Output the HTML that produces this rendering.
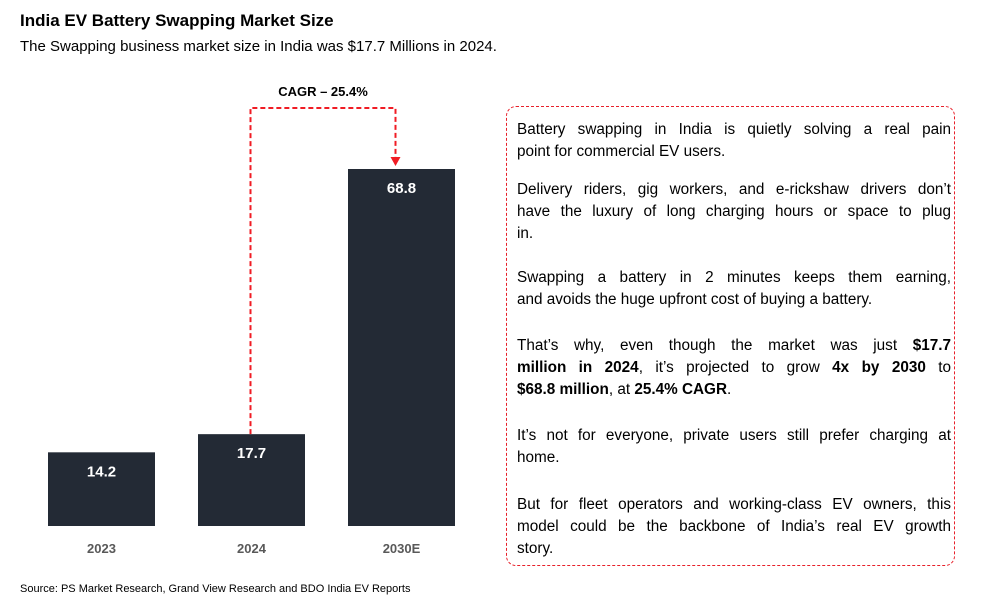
<!DOCTYPE html>
<html><head><meta charset="utf-8"><style>
body{margin:0;width:985px;height:607px;background:#fff;font-family:"Liberation Sans",sans-serif;position:relative;overflow:hidden;color:#000}
.abs{position:absolute}
#title{left:20px;top:11px;font-size:17px;font-weight:bold}
#sub{left:20px;top:38px;font-size:15px}
#src{left:20px;top:583px;font-size:11px}
#box{left:506px;top:106px;width:449px;height:460px;border:1.5px dashed #e8202a;border-radius:10px;box-sizing:border-box}
.ln{position:absolute;left:517px;width:434px;font-size:15.3px;white-space:nowrap;text-align:justify;text-align-last:justify;line-height:20px}
.ln.e{text-align-last:left}
</style></head><body>
<div id="title" class="abs">India EV Battery Swapping Market Size</div>
<div id="sub" class="abs">The Swapping business market size in India was $17.7 Millions in 2024.</div>
<svg class="abs" style="left:0;top:0" width="500" height="580" id="chart"></svg>
<div id="box" class="abs"></div>
<div>
<div class="ln" style="top:120px">Battery swapping in India is quietly solving a real pain</div>
<div class="ln e" style="top:142px">point for commercial EV users.</div>
<div class="ln" style="top:180px">Delivery riders, gig workers, and e-rickshaw drivers don’t</div>
<div class="ln" style="top:202px">have the luxury of long charging hours or space to plug</div>
<div class="ln e" style="top:224px">in.</div>
<div class="ln" style="top:268px">Swapping a battery in 2 minutes keeps them earning,</div>
<div class="ln e" style="top:290px">and avoids the huge upfront cost of buying a battery.</div>
<div class="ln" style="top:336px">That’s why, even though the market was just <b>$17.7</b></div>
<div class="ln" style="top:358px"><b>million in 2024</b>, it’s projected to grow <b>4x by 2030</b> to</div>
<div class="ln e" style="top:380px"><b>$68.8 million</b>, at <b>25.4% CAGR</b>.</div>
<div class="ln" style="top:426px">It’s not for everyone, private users still prefer charging at</div>
<div class="ln e" style="top:448px">home.</div>
<div class="ln" style="top:495px">But for fleet operators and working-class EV owners, this</div>
<div class="ln" style="top:517px">model could be the backbone of India’s real EV growth</div>
<div class="ln e" style="top:539px">story.</div>
</div>
<div id="src" class="abs">Source: PS Market Research, Grand View Research and BDO India EV Reports</div>
<script>
const categories=["2023","2024","2030E"];
const values=[14.2,17.7,68.8];
const valueLabels=["14.2","17.7","68.8"];
const cagrLabel="CAGR – 25.4%";
const svg=document.getElementById('chart');
const NS="http://www.w3.org/2000/svg";
const base=526, pxPer=357/68.8, x0=48, step=150, bw=107;
function xs(i){return x0+i*step;}
function ys(v){return base-v*pxPer;}
function mk(t,a){const e=document.createElementNS(NS,t);for(const k in a)e.setAttribute(k,a[k]);svg.appendChild(e);return e;}
categories.forEach((c,i)=>{
  const r=mk('rect',{x:xs(i),y:ys(values[i]),width:bw,height:base-ys(values[i]),fill:'#232a35'});
  
  
  const t=mk('text',{x:xs(i)+bw/2,y:ys(values[i])+24,'text-anchor':'middle','font-size':15,'font-weight':'bold',fill:'#fff','font-family':'Liberation Sans'});
  t.textContent=valueLabels[i];
  
  
  const l=mk('text',{x:xs(i)+bw/2,y:553,'text-anchor':'middle','font-size':13,'font-weight':'bold',fill:'#595959','font-family':'Liberation Sans'});
  l.textContent=c;
  
  
});
const x1=xs(1)+bw/2-1, x2=xs(2)+bw/2-6, topY=108;
const p=mk('path',{d:`M${x1} ${ys(values[1])} V${topY} H${x2} V${ys(values[2])-12}`,fill:'none',stroke:'#f01c24','stroke-width':2,'stroke-dasharray':'5 3'});


const ah=mk('path',{d:`M${x2-5} ${ys(values[2])-12} L${x2+5} ${ys(values[2])-12} L${x2} ${ys(values[2])-3} Z`,fill:'#f01c24'});


const ct=mk('text',{x:(x1+x2)/2,y:96,'text-anchor':'middle','font-size':13,'font-weight':'bold',fill:'#000','font-family':'Liberation Sans'});
ct.textContent=cagrLabel;


</script>
</body></html>
